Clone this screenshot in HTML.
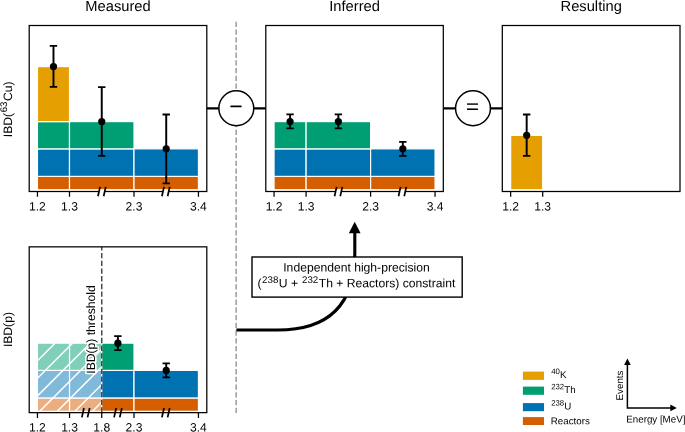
<!DOCTYPE html>
<html lang="en"><head><meta charset="utf-8"><title>IBD figure</title>
<style>html,body{margin:0;padding:0;background:#fff}svg{display:block;will-change:transform}text{font-family:"Liberation Sans",Arial,Helvetica,sans-serif;fill:#000;text-rendering:geometricPrecision}</style>
</head><body>
<svg width="685" height="432" viewBox="0 0 685 432">
<defs><clipPath id="hc"><rect x="37.45" y="343.15" width="64.3" height="68.15"/></clipPath></defs>
<rect width="685" height="432" fill="#fff"/>
<path d="M236.15,413V21.5" stroke="#9c9c9c" stroke-width="1.5" stroke-dasharray="5.3 2.42" fill="none"/>
<rect x="37.45" y="176.40" width="32.05" height="13.35" fill="#D55E00" stroke="#fff" stroke-width="1.2"/>
<rect x="69.50" y="176.40" width="64.50" height="13.35" fill="#D55E00" stroke="#fff" stroke-width="1.2"/>
<rect x="134.00" y="176.40" width="64.45" height="13.35" fill="#D55E00" stroke="#fff" stroke-width="1.2"/>
<rect x="37.45" y="148.85" width="32.05" height="27.55" fill="#0072B2" stroke="#fff" stroke-width="1.2"/>
<rect x="69.50" y="148.85" width="64.50" height="27.55" fill="#0072B2" stroke="#fff" stroke-width="1.2"/>
<rect x="134.00" y="148.85" width="64.45" height="27.55" fill="#0072B2" stroke="#fff" stroke-width="1.2"/>
<rect x="37.45" y="121.60" width="32.05" height="27.25" fill="#009E73" stroke="#fff" stroke-width="1.2"/>
<rect x="69.50" y="121.60" width="64.50" height="27.25" fill="#009E73" stroke="#fff" stroke-width="1.2"/>
<rect x="37.45" y="66.60" width="32.05" height="55.00" fill="#E69F00" stroke="#fff" stroke-width="1.2"/>
<rect x="29.20" y="25.50" width="177.60" height="166.00" fill="none" stroke="#000" stroke-width="1.25"/>
<path d="M37.45,191.50v5.3M69.50,191.50v5.3M134.00,191.50v5.3M198.45,191.50v5.3" stroke="#000" stroke-width="1.25" fill="none"/>
<path d="M99.00,190.30L104.70,190.30L104.70,192.70L99.00,192.70Z" fill="#fff"/>
<path d="M97.95,196.20L100.05,186.90" stroke="#000" stroke-width="1.7" fill="none"/>
<path d="M103.65,196.20L105.75,186.90" stroke="#000" stroke-width="1.7" fill="none"/>
<path d="M162.97,190.30L168.67,190.30L168.67,192.70L162.97,192.70Z" fill="#fff"/>
<path d="M161.92,196.20L164.03,186.90" stroke="#000" stroke-width="1.7" fill="none"/>
<path d="M167.62,196.20L169.72,186.90" stroke="#000" stroke-width="1.7" fill="none"/>
<path d="M53.48,45.90V86.90" stroke="#000" stroke-width="1.95" fill="none"/>
<path d="M49.77,45.90h7.40M49.77,86.90h7.40" stroke="#000" stroke-width="1.8" fill="none"/>
<circle cx="53.48" cy="66.60" r="3.6" fill="#000"/>
<path d="M101.75,87.20V155.90" stroke="#000" stroke-width="1.95" fill="none"/>
<path d="M98.05,87.20h7.40M98.05,155.90h7.40" stroke="#000" stroke-width="1.8" fill="none"/>
<circle cx="101.75" cy="121.60" r="3.6" fill="#000"/>
<path d="M166.22,114.50V183.30" stroke="#000" stroke-width="1.95" fill="none"/>
<path d="M162.53,114.50h7.40M162.53,183.30h7.40" stroke="#000" stroke-width="1.8" fill="none"/>
<circle cx="166.22" cy="148.85" r="3.6" fill="#000"/>
<rect x="274.05" y="176.40" width="32.05" height="13.35" fill="#D55E00" stroke="#fff" stroke-width="1.2"/>
<rect x="306.10" y="176.40" width="64.50" height="13.35" fill="#D55E00" stroke="#fff" stroke-width="1.2"/>
<rect x="370.60" y="176.40" width="64.45" height="13.35" fill="#D55E00" stroke="#fff" stroke-width="1.2"/>
<rect x="274.05" y="148.85" width="32.05" height="27.55" fill="#0072B2" stroke="#fff" stroke-width="1.2"/>
<rect x="306.10" y="148.85" width="64.50" height="27.55" fill="#0072B2" stroke="#fff" stroke-width="1.2"/>
<rect x="370.60" y="148.85" width="64.45" height="27.55" fill="#0072B2" stroke="#fff" stroke-width="1.2"/>
<rect x="274.05" y="121.60" width="32.05" height="27.25" fill="#009E73" stroke="#fff" stroke-width="1.2"/>
<rect x="306.10" y="121.60" width="64.50" height="27.25" fill="#009E73" stroke="#fff" stroke-width="1.2"/>
<rect x="265.80" y="25.50" width="177.50" height="166.00" fill="none" stroke="#000" stroke-width="1.25"/>
<path d="M274.05,191.50v5.3M306.10,191.50v5.3M370.60,191.50v5.3M435.05,191.50v5.3" stroke="#000" stroke-width="1.25" fill="none"/>
<path d="M335.60,190.30L341.30,190.30L341.30,192.70L335.60,192.70Z" fill="#fff"/>
<path d="M334.55,196.20L336.65,186.90" stroke="#000" stroke-width="1.7" fill="none"/>
<path d="M340.25,196.20L342.35,186.90" stroke="#000" stroke-width="1.7" fill="none"/>
<path d="M399.57,190.30L405.28,190.30L405.28,192.70L399.57,192.70Z" fill="#fff"/>
<path d="M398.52,196.20L400.62,186.90" stroke="#000" stroke-width="1.7" fill="none"/>
<path d="M404.23,196.20L406.33,186.90" stroke="#000" stroke-width="1.7" fill="none"/>
<path d="M290.08,114.40V128.30" stroke="#000" stroke-width="1.95" fill="none"/>
<path d="M286.38,114.40h7.40M286.38,128.30h7.40" stroke="#000" stroke-width="1.8" fill="none"/>
<circle cx="290.08" cy="121.60" r="3.6" fill="#000"/>
<path d="M338.35,114.40V128.30" stroke="#000" stroke-width="1.95" fill="none"/>
<path d="M334.65,114.40h7.40M334.65,128.30h7.40" stroke="#000" stroke-width="1.8" fill="none"/>
<circle cx="338.35" cy="121.60" r="3.6" fill="#000"/>
<path d="M402.82,141.90V155.90" stroke="#000" stroke-width="1.95" fill="none"/>
<path d="M399.12,141.90h7.40M399.12,155.90h7.40" stroke="#000" stroke-width="1.8" fill="none"/>
<circle cx="402.82" cy="148.85" r="3.6" fill="#000"/>
<rect x="510.65" y="135.35" width="32.05" height="54.40" fill="#E69F00" stroke="#fff" stroke-width="1.2"/>
<rect x="502.30" y="25.50" width="177.70" height="166.00" fill="none" stroke="#000" stroke-width="1.25"/>
<path d="M510.65,191.50v5.3M542.70,191.50v5.3" stroke="#000" stroke-width="1.25" fill="none"/>
<path d="M526.67,114.50V155.90" stroke="#000" stroke-width="1.95" fill="none"/>
<path d="M522.97,114.50h7.40M522.97,155.90h7.40" stroke="#000" stroke-width="1.8" fill="none"/>
<circle cx="526.67" cy="135.35" r="3.6" fill="#000"/>
<rect x="37.45" y="397.95" width="32.10" height="13.35" fill="#EAAE80" stroke="#fff" stroke-width="1.2"/>
<rect x="37.45" y="370.40" width="32.10" height="27.55" fill="#80B9D9" stroke="#fff" stroke-width="1.2"/>
<rect x="37.45" y="343.15" width="32.10" height="27.25" fill="#80CFB9" stroke="#fff" stroke-width="1.2"/>
<rect x="69.55" y="397.95" width="32.20" height="13.35" fill="#EAAE80" stroke="#fff" stroke-width="1.2"/>
<rect x="69.55" y="370.40" width="32.20" height="27.55" fill="#80B9D9" stroke="#fff" stroke-width="1.2"/>
<rect x="69.55" y="343.15" width="32.20" height="27.25" fill="#80CFB9" stroke="#fff" stroke-width="1.2"/>
<path d="M-32.70,413.30L39.45,341.15M-15.10,413.30L57.05,341.15M2.50,413.30L74.65,341.15M20.10,413.30L92.25,341.15M37.70,413.30L109.85,341.15M55.30,413.30L127.45,341.15M72.90,413.30L145.05,341.15M90.50,413.30L162.65,341.15" stroke="#fff" stroke-width="1.5" fill="none" clip-path="url(#hc)"/>
<rect x="101.75" y="397.95" width="32.25" height="13.35" fill="#D55E00" stroke="#fff" stroke-width="1.2"/>
<rect x="134.00" y="397.95" width="64.45" height="13.35" fill="#D55E00" stroke="#fff" stroke-width="1.2"/>
<rect x="101.75" y="370.40" width="32.25" height="27.55" fill="#0072B2" stroke="#fff" stroke-width="1.2"/>
<rect x="134.00" y="370.40" width="64.45" height="27.55" fill="#0072B2" stroke="#fff" stroke-width="1.2"/>
<rect x="101.75" y="343.15" width="32.25" height="27.25" fill="#009E73" stroke="#fff" stroke-width="1.2"/>
<path d="M101.75,412.65V246.85" stroke="#444" stroke-width="1.45" stroke-dasharray="5.3 2.42" fill="none"/>
<rect x="29.20" y="246.85" width="177.60" height="165.80" fill="none" stroke="#000" stroke-width="1.25"/>
<path d="M37.45,412.65v5.3M69.55,412.65v5.3M101.75,412.65v5.3M134.00,412.65v5.3M198.45,412.65v5.3" stroke="#000" stroke-width="1.25" fill="none"/>
<path d="M81.85,417.35L83.95,408.05" stroke="#000" stroke-width="1.7" fill="none"/>
<path d="M87.55,417.35L89.65,408.05" stroke="#000" stroke-width="1.7" fill="none"/>
<path d="M114.08,417.35L116.17,408.05" stroke="#000" stroke-width="1.7" fill="none"/>
<path d="M119.77,417.35L121.87,408.05" stroke="#000" stroke-width="1.7" fill="none"/>
<path d="M161.92,417.35L164.03,408.05" stroke="#000" stroke-width="1.7" fill="none"/>
<path d="M167.62,417.35L169.72,408.05" stroke="#000" stroke-width="1.7" fill="none"/>
<path d="M117.88,336.20V350.10" stroke="#000" stroke-width="1.95" fill="none"/>
<path d="M114.17,336.20h7.40M114.17,350.10h7.40" stroke="#000" stroke-width="1.8" fill="none"/>
<circle cx="117.88" cy="343.15" r="3.6" fill="#000"/>
<path d="M166.22,363.45V377.35" stroke="#000" stroke-width="1.95" fill="none"/>
<path d="M162.53,363.45h7.40M162.53,377.35h7.40" stroke="#000" stroke-width="1.8" fill="none"/>
<circle cx="166.22" cy="370.40" r="3.6" fill="#000"/>
<path d="M206.75,108.4H265.85" stroke="#000" stroke-width="2.25" fill="none"/>
<circle cx="236.3" cy="108.25" r="17.45" fill="#fff" stroke="#000" stroke-width="1.5"/>
<path d="M443.45,108.4H502.55" stroke="#000" stroke-width="2.25" fill="none"/>
<circle cx="473.0" cy="108.25" r="17.45" fill="#fff" stroke="#000" stroke-width="1.5"/>
<path d="M236.4,330H277.7Q354.8,330 354.8,253V232" stroke="#000" stroke-width="3.1" fill="none"/>
<path d="M354.7,221.7L348.8,233.3L360.6,233.3Z" fill="#000"/>
<rect x="252" y="257" width="210.2" height="40.1" fill="#fff" stroke="#000" stroke-width="1.4"/>
<rect x="522.90" y="371.60" width="21.10" height="8.30" fill="#E69F00" />
<rect x="522.90" y="386.60" width="21.10" height="8.20" fill="#009E73" />
<rect x="522.90" y="403.10" width="21.10" height="8.10" fill="#0072B2" />
<rect x="522.90" y="417.10" width="21.10" height="7.90" fill="#D55E00" />
<path d="M627.4,364V407.9H671" stroke="#000" stroke-width="1.5" fill="none" stroke-linejoin="miter"/>
<path d="M627.4,358.5L624.1,364.9L630.8,364.9Z" fill="#000"/>
<path d="M676.8,407.9L670.3,404.6L670.3,411.2Z" fill="#000"/>
<g transform="matrix(1 0.0005 0 1 0 0)">
<text x="37.45" y="210.581" font-size="12.1" text-anchor="middle">1.2</text>
<text x="69.5" y="210.565" font-size="12.1" text-anchor="middle">1.3</text>
<text x="134.0" y="210.533" font-size="12.1" text-anchor="middle">2.3</text>
<text x="198.45" y="210.501" font-size="12.1" text-anchor="middle">3.4</text>
<text x="274.05" y="210.463" font-size="12.1" text-anchor="middle">1.2</text>
<text x="306.1" y="210.447" font-size="12.1" text-anchor="middle">1.3</text>
<text x="370.6" y="210.415" font-size="12.1" text-anchor="middle">2.3</text>
<text x="435.05" y="210.382" font-size="12.1" text-anchor="middle">3.4</text>
<text x="510.65" y="210.345" font-size="12.1" text-anchor="middle">1.2</text>
<text x="542.7" y="210.329" font-size="12.1" text-anchor="middle">1.3</text>
<text x="37.45" y="431.381" font-size="12.1" text-anchor="middle">1.2</text>
<text x="69.55" y="431.365" font-size="12.1" text-anchor="middle">1.3</text>
<text x="101.75" y="431.349" font-size="12.1" text-anchor="middle">1.8</text>
<text x="134.0" y="431.333" font-size="12.1" text-anchor="middle">2.3</text>
<text x="198.45" y="431.301" font-size="12.1" text-anchor="middle">3.4</text>
<text transform="rotate(-90 94.7 329.453)" x="94.7" y="329.453" font-size="12.15" text-anchor="middle" stroke="#fff" stroke-width="3.2" stroke-linejoin="round" paint-order="stroke">IBD(p) threshold</text>
<text x="118.0" y="10.841" font-size="14.7" text-anchor="middle">Measured</text>
<text x="354.6" y="10.723" font-size="14.7" text-anchor="middle">Inferred</text>
<text x="591.2" y="10.604" font-size="14.7" text-anchor="middle">Resulting</text>
<text transform="rotate(-90 11.55 109.294)" x="11.55" y="109.294" font-size="12.15" text-anchor="middle">IBD(<tspan font-size="9.72" dx="0.61" dy="-4.07">63</tspan><tspan dx="0.49" dy="4.07">Cu)</tspan></text>
<text transform="rotate(-90 11.9 329.594)" x="11.9" y="329.594" font-size="12.15" text-anchor="middle">IBD(p)</text>
<text transform="translate(236.0,106.222) scale(1,1.0)" x="0" y="7.57" font-size="23.0" text-anchor="middle">−</text>
<text transform="translate(472.6,106.394) scale(1,0.9)" x="0" y="7.34" font-size="22.3" text-anchor="middle" stroke="#000" stroke-width="0.12">=</text>
<text x="356.5" y="271.372" font-size="12.15" text-anchor="middle">Independent high-precision</text>
<text x="356.4" y="287.022" font-size="12.15" text-anchor="middle">(<tspan font-size="9.72" dx="0.61" dy="-4.07">238</tspan><tspan dx="0.49" dy="4.07">U + </tspan><tspan font-size="9.72" dx="0.61" dy="-4.07">232</tspan><tspan dx="0.49" dy="4.07">Th + Reactors) constraint</tspan></text>
<text x="551.2" y="377.724" font-size="9.75"><tspan font-size="7.80" dx="0.00" dy="-3.90">40</tspan><tspan dx="0.00" dy="3.90">K</tspan></text>
<text x="551.2" y="392.824" font-size="9.75"><tspan font-size="7.80" dx="0.00" dy="-3.90">232</tspan><tspan dx="0.00" dy="3.90">Th</tspan></text>
<text x="551.2" y="409.124" font-size="9.75"><tspan font-size="7.80" dx="0.00" dy="-3.90">238</tspan><tspan dx="0.00" dy="3.90">U</tspan></text>
<text x="550.8" y="423.975" font-size="9.75">Reactors</text>
<text transform="rotate(-90 622.7 385.189)" x="622.7" y="385.189" font-size="9.75" text-anchor="middle">Events</text>
<text x="626.3" y="422.087" font-size="9.75">Energy [MeV]</text>
</g>
</svg>
</body></html>
